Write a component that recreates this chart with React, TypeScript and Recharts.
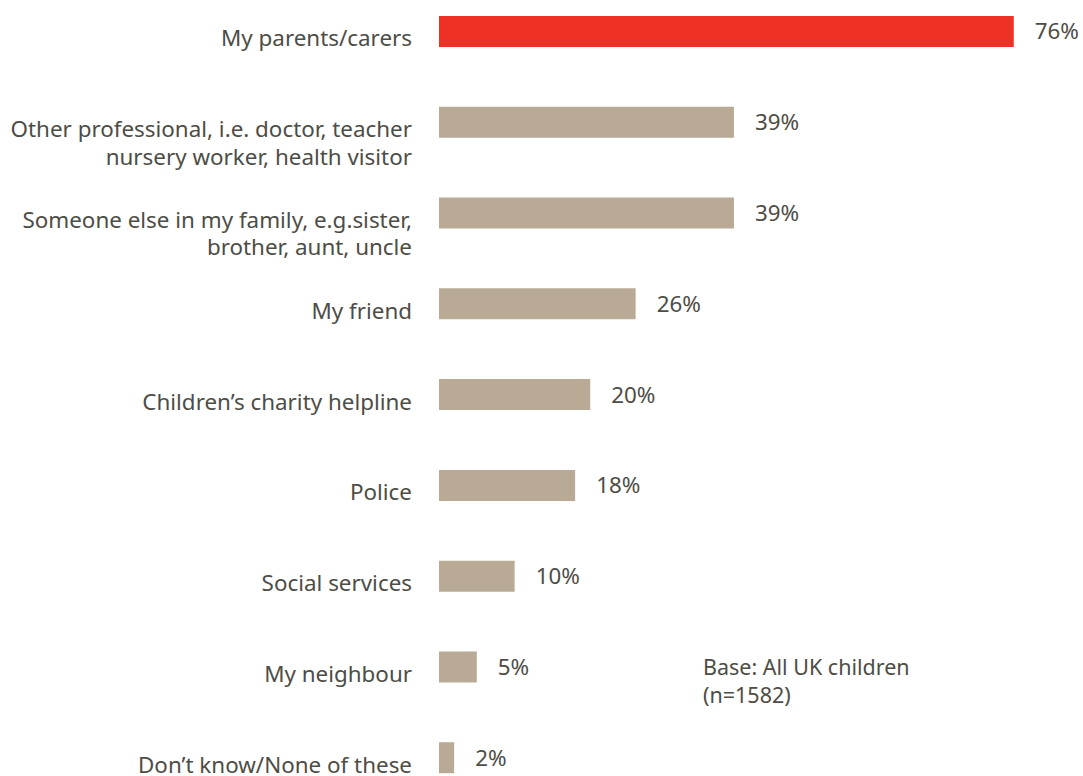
import { BarChart, Bar, XAxis, YAxis, Cell, LabelList } from 'recharts'

// who children would talk to (% of all UK children)
const categories = [
  'My parents/carers',
  'Other professional, i.e. doctor, teacher|nursery worker, health visitor',
  'Someone else in my family, e.g.sister,|brother, aunt, uncle',
  'My friend',
  'Children’s charity helpline',
  'Police',
  'Social services',
  'My neighbour',
  'Don’t know/None of these',
]
const percentages = [76, 39, 39, 26, 20, 18, 10, 5, 2]
const highlightIndex = 0

const baseNote = ['Base: All UK children', '(n=1582)']

const data = categories.map((name, i) => ({ name, value: percentages[i] }))

const FONT = '"Noto Sans", sans-serif'
const TEXT = '#4d4d46'
const RED = '#ee3124'
const TAN = '#b9aa95'
const FONT_SIZE = 22.4

function CategoryTick({ x, y, payload }: any) {
  const lines = String(payload.value).split('|')
  return (
    <text x={x} y={y} textAnchor="end" fill={TEXT} fontSize={FONT_SIZE} fontFamily={FONT}>
      {lines.map((line, i) => (
        <tspan key={i} x={x} dy={i === 0 ? 15 : 27.5}>
          {line}
        </tspan>
      ))}
    </text>
  )
}

export default function App() {
  return (
    <div
      style={{
        position: 'fixed',
        left: 0,
        top: 0,
        width: 1083,
        height: 776,
        overflow: 'hidden',
        background: '#fff',
      }}
    >
      <div style={{ position: 'absolute', left: 0, top: -14 }}>
        <BarChart
          width={1083}
          height={817}
          data={data}
          layout="vertical"
          margin={{ top: 0, right: 39, left: 0, bottom: 0 }}
        >
          <XAxis type="number" domain={[0, 80]} hide />
          <YAxis
            type="category"
            dataKey="name"
            width={439}
            axisLine={false}
            tickLine={false}
            tickSize={0}
            tickMargin={27}
            tick={<CategoryTick />}
            interval={0}
          />
          <Bar dataKey="value" barSize={31} isAnimationActive={false}>
            {data.map((_, i) => (
              <Cell key={i} fill={i === highlightIndex ? RED : TAN} />
            ))}
            <LabelList
              dataKey="value"
              position="right"
              offset={21}
              formatter={(v: any) => `${v}%`}
              fill={TEXT}
              fontSize={FONT_SIZE}
              fontFamily={FONT}
            />
          </Bar>
        </BarChart>
      </div>
      <div
        style={{
          position: 'absolute',
          left: 703,
          top: 653,
          fontFamily: FONT,
          fontSize: 21.5,
          lineHeight: '28px',
          color: TEXT,
        }}
      >
        {baseNote.map((line, i) => (
          <div key={i}>{line}</div>
        ))}
      </div>
    </div>
  )
}
